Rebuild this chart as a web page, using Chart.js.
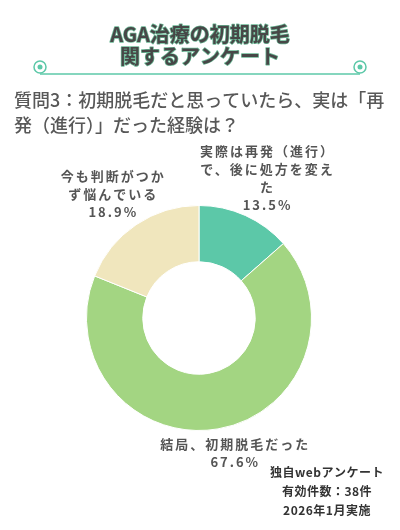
<!DOCTYPE html>
<html>
<head>
<meta charset="utf-8">
<script src="https://cdn.jsdelivr.net/npm/chart.js@4"></script>
<style>
  html, body { margin: 0; padding: 0; background: #ffffff; }
  #wrap { width: 400px; height: 530px; position: relative; }
</style>
</head>
<body>
<div id="wrap"><canvas id="chart" width="400" height="530"></canvas></div>
<script>
const titleLines = ['AGA治療の初期脱毛', '関するアンケート']
const questionLines = ['質問3：初期脱毛だと思っていたら、実は「再', '発（進行）」だった経験は？']
const categories = [
    ['実際は再発（進行）', 'で、後に処方を変え', 'た'],
    ['結局、初期脱毛だった'],
    ['今も判断がつか', 'ず悩んでいる']
]
const percents = [13.5, 67.6, 18.9]
const sliceColors = ['#5cc8a8', '#a3d582', '#f0e6bd']
const footerLines = ['独自webアンケート', '有効件数：38件', '2026年1月実施']

const FONT = '"Noto Sans CJK JP", "Noto Sans", sans-serif'

// header, question, slice labels and footer are drawn straight on the canvas
const decorPlugin = {
    id: 'decor',
    afterDraw(chart) {
        const ctx = chart.ctx
        ctx.save()

        // title with green outline
        ctx.font = 'bold 20px ' + FONT
        ctx.textAlign = 'center'
        ctx.textBaseline = 'middle'
        ctx.lineJoin = 'round'
        titleLines.forEach((t, i) => {
            ctx.lineWidth = 1.5
            ctx.strokeStyle = '#6cb896'
            ctx.strokeText(t, 200, 34 + i * 22)
            ctx.fillStyle = '#474747'
            ctx.fillText(t, 200, 34 + i * 22)
        })

        // ornament line with curls
        ctx.strokeStyle = '#5cc8a8'
        ctx.fillStyle = '#5cc8a8'
        ctx.lineWidth = 1.5
        ctx.beginPath()
        ctx.moveTo(40, 74)
        ctx.lineTo(360, 74)
        ctx.stroke()
        ;[40, 360].forEach(cx => {
            ctx.beginPath()
            ctx.arc(cx, 67, 6, 0, Math.PI * 2)
            ctx.stroke()
            ctx.beginPath()
            ctx.arc(cx, 67, 2.5, 0, Math.PI * 2)
            ctx.fill()
        })

        // question
        ctx.font = '500 18px ' + FONT
        ctx.textAlign = 'left'
        ctx.fillStyle = '#585858'
        questionLines.forEach((t, i) => ctx.fillText(t, 14, 100 + i * 25))

        // slice labels placed from arc geometry
        const meta = chart.getDatasetMeta(0)
        ctx.font = 'bold 13px ' + FONT
        ctx.textAlign = 'center'
        ctx.fillStyle = '#555555'
        ctx.letterSpacing = '2px'
        const nudge = [[6, -4], [10, -12], [-3, 0]]
        meta.data.forEach((arc, i) => {
            const p = arc.getProps(['x', 'y', 'startAngle', 'endAngle', 'outerRadius'], true)
            const mid = (p.startAngle + p.endAngle) / 2
            const r = p.outerRadius * 1.33
            const lines = categories[i].concat([percents[i].toFixed(1) + '%'])
            const lh = 18
            const x = p.x + Math.cos(mid) * r + nudge[i][0]
            const y0 = p.y + Math.sin(mid) * r + nudge[i][1] - (lines.length - 1) * lh / 2
            lines.forEach((t, j) => ctx.fillText(t, x + 1, y0 + j * lh))
        })

        // footer
        ctx.font = 'bold 12px ' + FONT
        ctx.fillStyle = '#333333'
        ctx.letterSpacing = '0.5px'
        footerLines.forEach((t, i) => ctx.fillText(t, 327, 472 + i * 19))
        ctx.restore()
    }
}

new Chart(document.getElementById('chart'), {
    type: 'doughnut',
    data: {
        labels: categories.map(c => c.join('')),
        datasets: [{
            data: percents,
            backgroundColor: sliceColors,
            borderColor: '#ffffff',
            borderWidth: 1
        }]
    },
    options: {
        responsive: false,
        animation: false,
        cutout: '50%',
        layout: { padding: { top: 205, bottom: 99, left: 86, right: 88 } },
        plugins: {
            legend: { display: false },
            tooltip: { enabled: false }
        }
    },
    plugins: [decorPlugin]
})
</script>
</body>
</html>
